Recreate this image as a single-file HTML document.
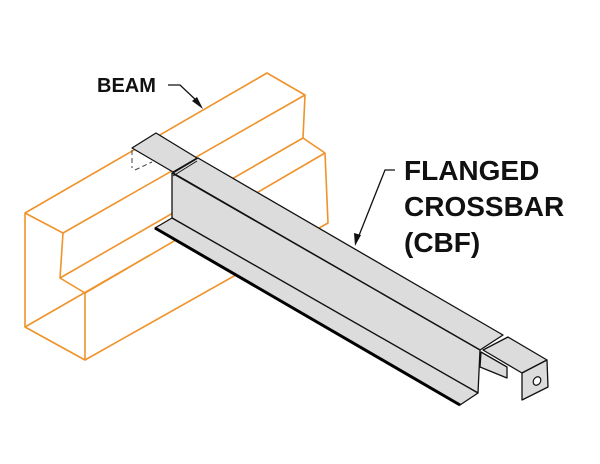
<!DOCTYPE html>
<html><head><style>
html,body{margin:0;padding:0;background:#fff;width:600px;height:464px;overflow:hidden}
svg{display:block}
text{font-family:"Liberation Sans",Arial,sans-serif;font-weight:bold;fill:#111}
</style></head><body>
<svg width="600" height="464" viewBox="0 0 600 464" xmlns="http://www.w3.org/2000/svg">
<g fill="none" stroke="#f0922a" stroke-width="1.6" stroke-linejoin="round">
  <polyline points="25,213 267,73 305,95 303,138 325,153 328,223 85,360 25,327 25,213 63,233 60,278 85,293 85,360"/>
  <line x1="63" y1="233" x2="305" y2="95"/>
  <line x1="60" y1="278" x2="303" y2="138"/>
  <line x1="85" y1="293" x2="325" y2="153"/>
  <line x1="25" y1="327" x2="150" y2="255"/>
</g>
<g stroke="#111" stroke-width="1.3" stroke-linejoin="round" fill="#dcdcdc">
  <polygon points="132,148 156,133 197,158 173,172"/>
  <polygon points="173,173 198,158 503,335 480,350"/>
  <polygon points="172,173 480,350 478,393 172,218"/>
  <polygon points="172,218 478,393 460,405 155,228"/>
  <polygon points="483,350 508,337 547,360 522,373"/>
  <polygon points="481,352 507,367 507,378 480,367"/>
  <polygon points="522,373 547,360 548,387 522,400"/>
</g>
<line x1="155" y1="228" x2="460" y2="405" stroke="#000" stroke-width="3"/>
<line x1="173" y1="176" x2="197" y2="161" stroke="#111" stroke-width="1"/>
<ellipse cx="537" cy="381" rx="3.5" ry="4.5" fill="#fff" stroke="#111" stroke-width="1.2" transform="rotate(30 537 381)"/>
<g stroke="#444" stroke-width="1" fill="none" stroke-dasharray="5,3">
  <line x1="132" y1="150" x2="132" y2="168"/>
  <line x1="135" y1="170" x2="152" y2="162"/>
</g>
<text x="97" y="92" font-size="20">BEAM</text>
<g stroke="#111" stroke-width="1.3" fill="none">
  <polyline points="168,85 180,85 198,102"/>
  <polyline points="395,170 385,170 358,238"/>
</g>
<polygon points="203,109 192,101 197,97" fill="#111"/>
<polygon points="355,246 354,233 361,235" fill="#111"/>
<text x="404" y="180" font-size="28">FLANGED</text>
<text x="404" y="216" font-size="28">CROSSBAR</text>
<text x="404" y="252" font-size="28">(CBF)</text>
</svg>
</body></html>
